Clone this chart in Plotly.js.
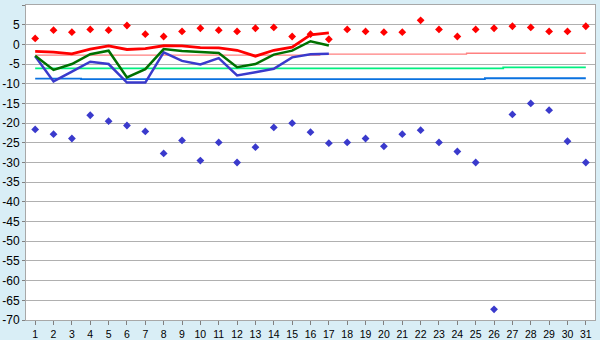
<!DOCTYPE html>
<html>
<head>
<meta charset="utf-8">
<script src="https://cdn.plot.ly/plotly-3.0.1.min.js"></script>
<style>
html,body{margin:0;padding:0;background:#d9eef6;}
#chart{width:600px;height:340px;}
</style>
</head>
<body>
<div id="chart"></div>
<script>
// Days of the month
const days = [1,2,3,4,5,6,7,8,9,10,11,12,13,14,15,16,17,18,19,20,21,22,23,24,25,26,27,28,29,30,31];

// Daily maximum (red diamonds)
const maxTemp = [1.5,3.6,3.1,3.8,3.6,4.8,2.6,2.0,3.3,4.1,3.6,3.3,4.1,4.3,2.0,2.6,1.3,3.8,3.3,3.1,3.1,6.1,3.8,2.0,3.8,4.1,4.6,4.3,3.3,3.3,4.6];

// Daily minimum (blue diamonds)
const minTemp = [-21.6,-22.8,-23.9,-18.0,-19.5,-20.6,-22.1,-27.7,-24.4,-29.5,-24.9,-30.0,-26.1,-21.1,-20.0,-22.3,-25.1,-24.9,-23.9,-25.9,-22.8,-21.8,-24.9,-27.2,-30.0,-67.3,-17.8,-15.0,-16.7,-24.6,-30.0];

// Lines for days 1-17
const lineDays = [1,2,3,4,5,6,7,8,9,10,11,12,13,14,15,16,17];
const redLine   = [-1.8,-1.95,-2.4,-1.2,-0.4,-1.3,-1.1,-0.35,-0.4,-0.8,-0.9,-1.5,-3.0,-1.5,-0.7,2.4,2.9];
const greenLine = [-2.9,-6.5,-5.0,-2.5,-1.6,-8.4,-6.3,-1.2,-1.7,-1.9,-2.2,-5.8,-5.0,-2.6,-1.6,0.8,-0.3];
const blueLine  = [-3.0,-9.4,-6.9,-4.4,-5.0,-9.7,-9.7,-2.0,-4.2,-5.1,-3.5,-7.9,-7.1,-6.2,-3.3,-2.5,-2.35];

// Normals (horizontal reference lines)
const redNormal   = [-2.75,-2.75,-2.75,-2.75,-2.75,-2.75,-2.75,-2.75,-2.75,-2.75,-2.75,-2.75,-2.75,-2.75,-2.75,-2.75,-2.5,-2.5,-2.5,-2.5,-2.5,-2.5,-2.5,-2.5,-2.25,-2.25,-2.25,-2.25,-2.25,-2.25,-2.25];
const greenNormal = [-6.1,-6.1,-6.1,-6.1,-6.1,-6.1,-6.1,-6.1,-6.1,-6.1,-6.1,-6.1,-6.1,-6.1,-6.1,-6.1,-6.1,-6.1,-6.1,-6.1,-6.1,-6.1,-6.1,-6.1,-6.1,-6.1,-5.85,-5.85,-5.85,-5.85,-5.85];
const blueNormal  = [-8.7,-8.7,-8.7,-8.85,-8.85,-8.85,-8.85,-8.85,-8.85,-8.85,-8.85,-8.85,-8.85,-8.85,-8.85,-8.85,-8.85,-8.85,-8.85,-8.85,-8.85,-8.85,-8.85,-8.85,-8.85,-8.6,-8.6,-8.6,-8.6,-8.6,-8.6];

// Tick labels
const yTickVals = [-70,-65,-60,-55,-50,-45,-40,-35,-30,-25,-20,-15,-10,-5,0,5,10];
const yTickText = yTickVals.map(v => String(v));
const xTickText = days.map(v => String(v));

const traces = [
  {x: days, y: redNormal, mode: 'lines', line: {color: '#ff8080', width: 1.3, shape: 'hvh'}},
  {x: days, y: greenNormal, mode: 'lines', line: {color: '#00f080', width: 1.8, shape: 'hvh'}},
  {x: days, y: blueNormal, mode: 'lines', line: {color: '#0a72e0', width: 1.8, shape: 'hvh'}},
  {x: lineDays, y: blueLine, mode: 'lines', line: {color: '#3a3acc', width: 2.5}},
  {x: lineDays, y: greenLine, mode: 'lines', line: {color: '#007000', width: 2.5}},
  {x: lineDays, y: redLine, mode: 'lines', line: {color: '#ff0000', width: 2.8}},
  {x: days, y: maxTemp, mode: 'markers', marker: {symbol: 'diamond', size: 6, color: '#ff0000'}},
  {x: days, y: minTemp, mode: 'markers', marker: {symbol: 'diamond', size: 6, color: '#3a3acc'}}
];

const layout = {
  width: 600, height: 340,
  margin: {l: 26, r: 5, t: 5, b: 20, pad: 0},
  paper_bgcolor: '#d9eef6',
  plot_bgcolor: '#ffffff',
  showlegend: false,
  hovermode: false,
  font: {family: 'Liberation Sans, Arial, sans-serif', color: '#000000'},
  xaxis: {
    range: [0.5, 31.5],
    tickvals: days, ticktext: xTickText,
    ticks: 'outside', ticklen: 4, tickcolor: '#808080',
    tickfont: {size: 10.5, family: 'Liberation Sans, Arial, sans-serif'},
    showgrid: false, zeroline: false,
    showline: true, linecolor: '#a8a8a8', linewidth: 1, mirror: true
  },
  yaxis: {
    range: [-70, 10],
    tickvals: yTickVals, ticktext: yTickText,
    ticks: 'outside', ticklen: 3, tickcolor: '#808080',
    tickfont: {size: 12, family: 'Liberation Sans, Arial, sans-serif'},
    showgrid: true, gridcolor: '#b0b0b0', gridwidth: 1,
    zeroline: false,
    showline: true, linecolor: '#a8a8a8', linewidth: 1, mirror: true
  }
};

Plotly.newPlot('chart', traces, layout, {displayModeBar: false, staticPlot: true});
</script>
</body>
</html>
